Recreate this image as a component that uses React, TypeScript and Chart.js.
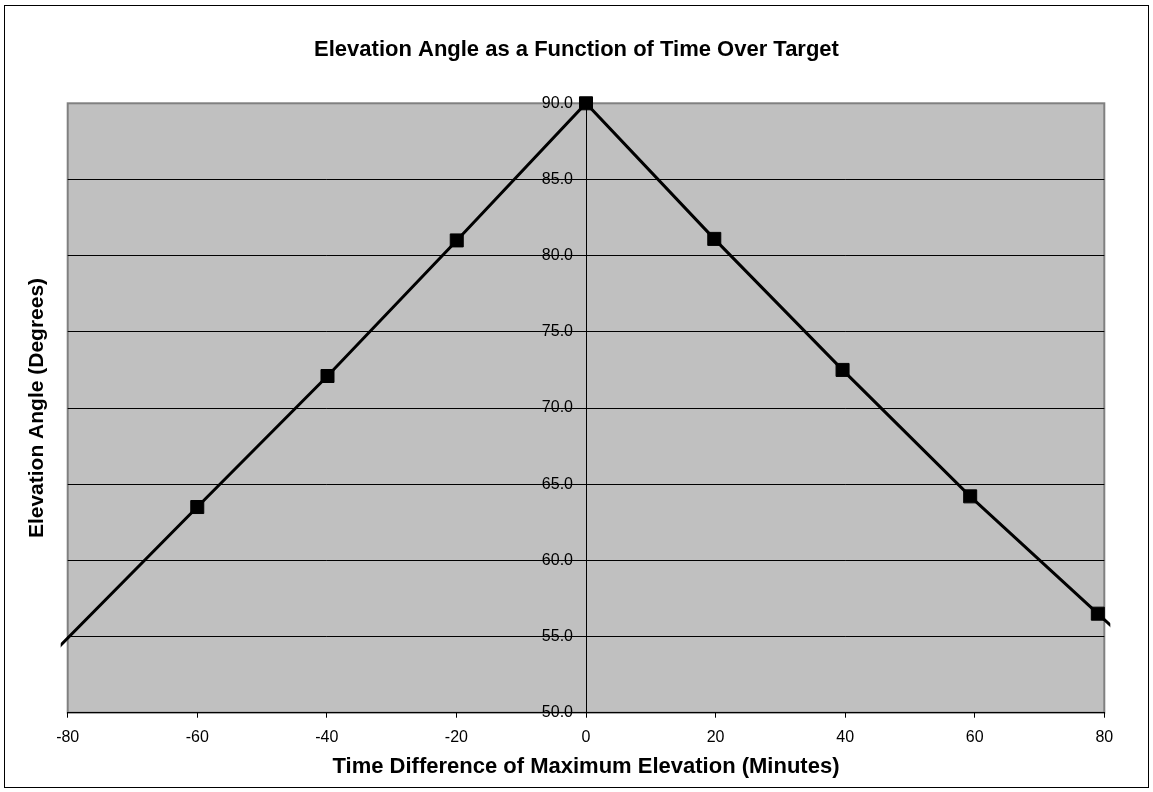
import React, { useEffect, useRef } from "react";
import { Chart, registerables } from "chart.js";

Chart.register(...registerables);

// ---- data ----
const timeMinutes = [-100, -60, -39.9, -19.95, 0, 19.8, 39.6, 59.3, 79.0, 99];
const elevationDeg = [46.3, 63.5, 72.1, 81.0, 90.0, 81.1, 72.5, 64.2, 56.5, 48.7];
const xTickValues = [-80, -60, -40, -20, 0, 20, 40, 60, 80];
const yTickValues = [50, 55, 60, 65, 70, 75, 80, 85, 90];

const chartTitle = "Elevation Angle as a Function of Time Over Target";
const xAxisTitle = "Time Difference of Maximum Elevation (Minutes)";
const yAxisTitle = "Elevation Angle (Degrees)";

const FONT = "'Liberation Sans', Arial, sans-serif";
const W = 1153;
const H = 792;

const plotBackground = {
  id: "plotBackground",
  beforeDraw(chart: any) {
    const { ctx, chartArea } = chart;
    const { left, top, right, bottom } = chartArea;
    ctx.save();
    ctx.fillStyle = "#C0C0C0";
    ctx.fillRect(left, top, right - left, bottom - top);
    ctx.strokeStyle = "#808080";
    ctx.lineWidth = 2;
    ctx.strokeRect(left, top, right - left, bottom - top);
    ctx.restore();
  },
};

// the y axis sits at x = 0; move its labels left of the axis line
const yLabelShift = {
  id: "yLabelShift",
  beforeDraw(chart: any) {
    const s = chart.scales.y;
    if (!s || !s.getLabelItems) return;
    const items = s.getLabelItems(chart.chartArea);
    items.forEach((it: any) => {
      if (!it.__shifted && it.options && it.options.translation) {
        it.options.translation[0] -= 13;
        it.__shifted = true;
      }
    });
  },
};

export default function App() {
  const canvasRef = useRef<HTMLCanvasElement | null>(null);

  useEffect(() => {
    if (!canvasRef.current) return;
    const points = timeMinutes.map((x, i) => ({ x, y: elevationDeg[i] }));
    const chart = new Chart(canvasRef.current, {
      type: "scatter",
      data: {
        datasets: [
          {
            data: points,
            showLine: true,
            borderColor: "#000000",
            borderWidth: 3,
            backgroundColor: "#000000",
            pointStyle: "rect",
            pointRadius: 9.2,
            pointBorderWidth: 1,
            pointBorderColor: "#000000",
            pointBackgroundColor: "#000000",
            tension: 0,
            clip: { left: 7, right: 6, top: 10, bottom: 0 } as any,
            yAxisID: "y",
            xAxisID: "x",
          },
        ],
      },
      options: {
        responsive: false,
        animation: false,
        events: [],
        layout: { padding: 0 },
        plugins: {
          legend: { display: false },
          tooltip: { enabled: false },
          title: {
            display: true,
            text: chartTitle,
            color: "#000000",
            font: { family: FONT, size: 22, weight: "bold", lineHeight: 1.2 },
            padding: { top: 37, bottom: 39.9 },
          },
        },
        scales: {
          x: {
            type: "linear",
            position: "bottom",
            min: -80,
            max: 80,
            afterBuildTicks: (scale: any) => {
              scale.ticks = xTickValues.map((v) => ({ value: v }));
            },
            afterFit: (scale: any) => {
              scale.height = H - 712.7;
            },
            ticks: {
              color: "#000000",
              font: { family: FONT, size: 16 },
              padding: 10,
              maxRotation: 0,
              autoSkip: false,
              callback: (v: any) => String(v),
            },
            grid: {
              drawOnChartArea: false,
              color: "#000000",
              tickLength: 5,
              lineWidth: 1,
            },
            border: { color: "#000000", width: 1 },
            title: {
              display: true,
              text: xAxisTitle,
              color: "#000000",
              font: { family: FONT, size: 22, weight: "bold", lineHeight: 1.2 },
              padding: { top: 0, bottom: 11.8 },
            },
          },
          y: {
            type: "linear",
            position: { x: 0 } as any,
            min: 50,
            max: 90,
            afterBuildTicks: (scale: any) => {
              scale.ticks = yTickValues.map((v) => ({ value: v }));
            },
            ticks: {
              color: "#000000",
              font: { family: FONT, size: 16 },
              padding: 8,
              callback: (v: any) => Number(v).toFixed(1),
            },
            grid: {
              color: (c: any) => (c.tick && c.tick.value === 90 ? "#808080" : "#000000"),
              lineWidth: 1,
              tickLength: 5,
            },
            border: { color: "#000000", width: 1 },
          },
          yTitle: {
            type: "linear",
            position: "left",
            min: 50,
            max: 90,
            afterFit: (scale: any) => {
              scale.width = 67.7;
            },
            ticks: { display: false },
            grid: { display: false },
            border: { display: false },
            title: {
              display: true,
              text: yAxisTitle,
              color: "#000000",
              font: { family: FONT, size: 21, weight: "bold", lineHeight: 1.2 },
              padding: { top: 24.4, bottom: 0 },
            },
          },
          yRight: {
            type: "linear",
            position: "right",
            min: 50,
            max: 90,
            afterFit: (scale: any) => {
              scale.width = W - 1104.3;
            },
            ticks: { display: false },
            grid: { display: false },
            border: { display: false },
          },
        },
      },
      plugins: [plotBackground, yLabelShift],
    } as any);
    return () => chart.destroy();
  }, []);

  return (
    <div style={{ position: "absolute", left: 0, top: 0, width: W, height: H, background: "#ffffff" }}>
      <canvas ref={canvasRef} width={W} height={H} style={{ width: W, height: H, display: "block" }} />
      <div
        style={{
          position: "absolute",
          left: 4,
          top: 5,
          width: 1143,
          height: 781,
          border: "1px solid #000000",
          pointerEvents: "none",
        }}
      />
    </div>
  );
}
